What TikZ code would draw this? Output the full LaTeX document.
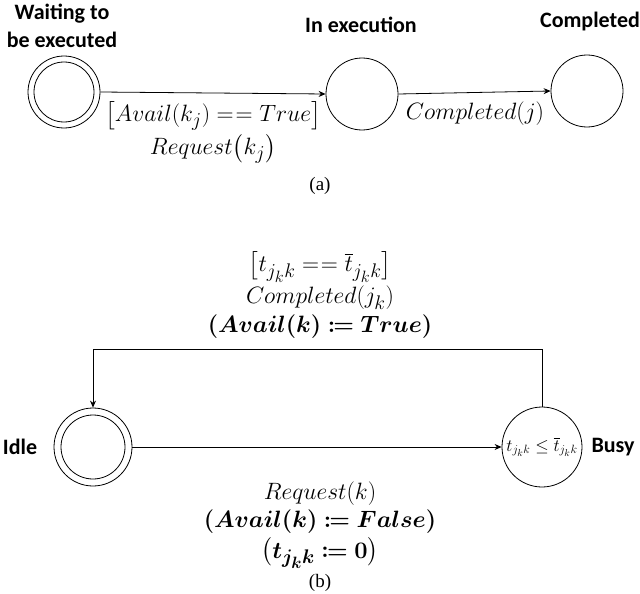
\documentclass[tikz,border=0pt]{standalone}
\usepackage{amsmath,amssymb,mathtools,bm}
\usepackage{fontspec}
\setmainfont{Liberation Serif}
\newfontfamily\lblfont{Carlito}
\usetikzlibrary{arrows.meta}
\newcommand{\eqeq}{\mathrel{=\mkern1.5mu=}}
\tikzset{
  state/.style={circle,draw,line width=0.8pt,minimum size=72pt,inner sep=0pt},
  innerring/.style={circle,draw,line width=0.8pt,minimum size=60pt,inner sep=0pt},
  lbl/.style={font=\lblfont\bfseries\fontsize{22}{28}\selectfont,align=center,inner sep=0pt},
  mlbl/.style={font=\fontsize{24.88}{30}\selectfont,inner sep=0pt,scale=0.95,transform shape},
  captxt/.style={font=\fontsize{19}{22}\selectfont,inner sep=0pt},
  conn/.style={line width=0.8pt,-{Stealth[length=7pt,width=6pt]}}
}
\begin{document}
\begin{tikzpicture}[x=1pt,y=1pt]
\useasboundingbox (0,0) rectangle (640,-594);
% (a)
\node[state] (w) at (64,-92) {};
\node[innerring] (win) at (64,-92) {};
\node[state] (ie) at (362,-94) {};
\node[state] (c) at (587,-91) {};
\node[lbl] (wl) at (62,-26) {Waiting to\\be executed};
\node[lbl] (iel) at (361,-25) {In execution};
\node[lbl] (cl) at (590,-22) {Completed};
\draw[conn] (w.east) -- (ie.west);
\draw[conn] (ie.east) -- (c.west);
\node[mlbl] (l1a) at (213,-116) {$\big[Avail(k_j) \eqeq True\big]$};
\node[mlbl] (l1b) at (213,-149) {$Request\big(k_j\big)$};
\node[mlbl] (l2) at (475,-114) {$Completed(j)$};
\node[captxt] (capa) at (320,-186) {(a)};
% (b)
\node[state,minimum size=78pt] (idle) at (93,-447) {};
\node[innerring,minimum size=64pt] (idlein) at (93,-447) {};
\node[state,minimum size=80pt] (busy) at (542,-447) {};
\node[inner sep=0pt,font=\fontsize{17.28}{20}\selectfont] (bt) at (542,-447) {$t_{j_k k}\le\overline{t}_{j_k k}$};
\node[lbl] (idlel) at (20,-447) {Idle};
\node[lbl] (busyl) at (613,-447) {Busy};
\coordinate (tr) at (542,-349);
\coordinate (tl) at (93,-349);
\draw[conn] (busy.north) -- (tr) -- (tl) -- (idle.north);
\draw[conn] (idle.east) -- (busy.west);
\node[mlbl] (l3a) at (320,-267) {$\big[t_{j_k k} \eqeq \overline{t}_{j_k k}\big]$};
\node[mlbl] (l3b) at (320,-298) {$Completed(j_k)$};
\node[mlbl] (l3c) at (320,-327) {$\bm{(Avail(k) \coloneqq True)}$};
\node[mlbl] (l4a) at (320,-494) {$Request(k)$};
\node[mlbl] (l4b) at (320,-522) {$\bm{(Avail(k) \coloneqq False)}$};
\node[mlbl] (l4c) at (320,-553) {$\bm{\big(t_{j_k k} \coloneqq 0\big)}$};
\node[captxt] (capb) at (320,-583) {(b)};
\end{tikzpicture}
\end{document}
